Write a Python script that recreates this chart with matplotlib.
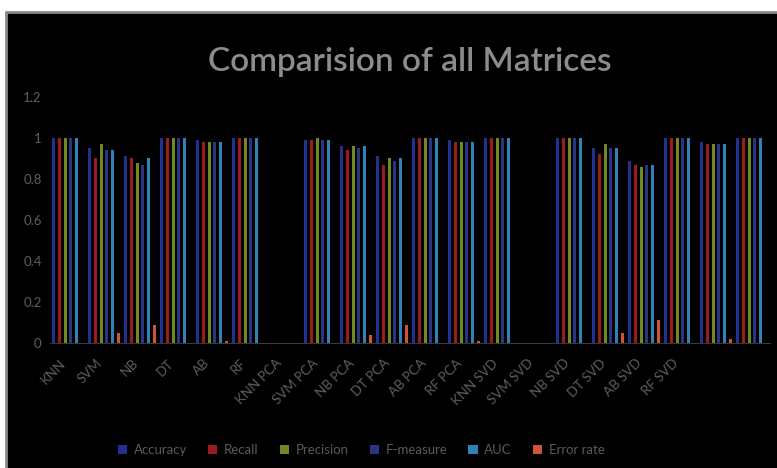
import numpy as np
import matplotlib
matplotlib.use('Agg')
import matplotlib.pyplot as plt
import matplotlib.transforms as mtransforms
from matplotlib.patches import Rectangle

# категорії (останні дві без підпису)
labels = ['KNN', 'SVM', 'NB', 'DT', 'AB', 'RF',
          'KNN PCA', 'SVM PCA', 'NB PCA', 'DT PCA', 'AB PCA', 'RF PCA',
          'KNN SVD', 'SVM SVD', 'NB SVD', 'DT SVD', 'AB SVD', 'RF SVD',
          '', '']

accuracy  = [1.00, 0.95, 0.91, 1.00, 0.99, 1.00, 0, 0.99, 0.96, 0.91, 1.00, 0.99, 1.00, 0, 1.00, 0.95, 0.89, 1.00, 0.98, 1.00]
recall    = [1.00, 0.90, 0.90, 1.00, 0.98, 1.00, 0, 0.99, 0.94, 0.87, 1.00, 0.98, 1.00, 0, 1.00, 0.92, 0.87, 1.00, 0.97, 1.00]
precision = [1.00, 0.97, 0.88, 1.00, 0.98, 1.00, 0, 1.00, 0.96, 0.90, 1.00, 0.98, 1.00, 0, 1.00, 0.97, 0.86, 1.00, 0.97, 1.00]
fmeasure  = [1.00, 0.94, 0.87, 1.00, 0.98, 1.00, 0, 0.99, 0.95, 0.89, 1.00, 0.98, 1.00, 0, 1.00, 0.95, 0.87, 1.00, 0.97, 1.00]
auc       = [1.00, 0.94, 0.90, 1.00, 0.98, 1.00, 0, 0.99, 0.96, 0.90, 1.00, 0.98, 1.00, 0, 1.00, 0.95, 0.87, 1.00, 0.97, 1.00]
error     = [0.00, 0.05, 0.09, 0.00, 0.01, 0.00, 0, 0.00, 0.04, 0.09, 0.00, 0.01, 0.00, 0, 0.00, 0.05, 0.11, 0.00, 0.02, 0.00]

series = [('Accuracy', accuracy, '#23308f'),
          ('Recall', recall, '#9a1c22'),
          ('Precision', precision, '#6f8a24'),
          ('F-measure', fmeasure, '#2c3584'),
          ('AUC', auc, '#2f82b8'),
          ('Error rate', error, '#cf5536')]

plt.rcParams['font.family'] = ['Lato', 'DejaVu Sans']

fig = plt.figure(figsize=(7.77, 4.68), dpi=100, facecolor='white')

# чорне поле діаграми з сірою рамкою
fig.patches.append(Rectangle((6 / 777, -0.01), 1, 1 - 12 / 468 + 0.01,
                             transform=fig.transFigure, facecolor='black',
                             edgecolor='#8a8a8a', linewidth=2, zorder=-5))

ax = fig.add_axes([50 / 777, 125 / 468, 720 / 777, 246 / 468])
ax.set_facecolor('black')

x = np.arange(len(labels))
pitch = 0.157
width = 0.09
for k, (name, vals, col) in enumerate(series):
    ax.bar(x + (k - 2.5) * pitch, vals, width=width, color=col, label=name)

ax.set_xlim(-0.5, len(labels) - 0.5)
ax.set_ylim(0, 1.2)
ax.set_yticks([0, 0.2, 0.4, 0.6, 0.8, 1, 1.2])
ax.set_yticklabels(['0', '0.2', '0.4', '0.6', '0.8', '1', '1.2'])
ax.set_xticks(x)
ax.set_xticklabels(labels, rotation=45, ha='right', rotation_mode='anchor')
ax.tick_params(axis='both', length=0, colors='#5e5e5e', labelsize=9.5)
ax.tick_params(axis='y', pad=6)
ax.tick_params(axis='x', pad=10)

# підписи категорій трохи лівіше від центру групи
shift = mtransforms.ScaledTranslation(-6 / 72, 0, fig.dpi_scale_trans)
for lbl in ax.get_xticklabels():
    lbl.set_transform(lbl.get_transform() + shift)

for s in ['top', 'right', 'left']:
    ax.spines[s].set_visible(False)
ax.spines['bottom'].set_color('#3a3a3a')
ax.spines['bottom'].set_linewidth(0.8)

fig.text(0.527, 0.867, 'Comparision of all Matrices', ha='center', va='center',
         fontsize=24, color='#8c8c8c', fontweight='semibold')

leg = fig.legend(loc='center', bbox_to_anchor=(0.465, 0.038), ncol=6,
                 frameon=False, fontsize=9.5, handlelength=0.7, handleheight=0.7,
                 columnspacing=1.6, handletextpad=0.5)
for t in leg.get_texts():
    t.set_color('#5a5a5a')

fig.savefig('out.png', dpi=100, facecolor=fig.get_facecolor())
